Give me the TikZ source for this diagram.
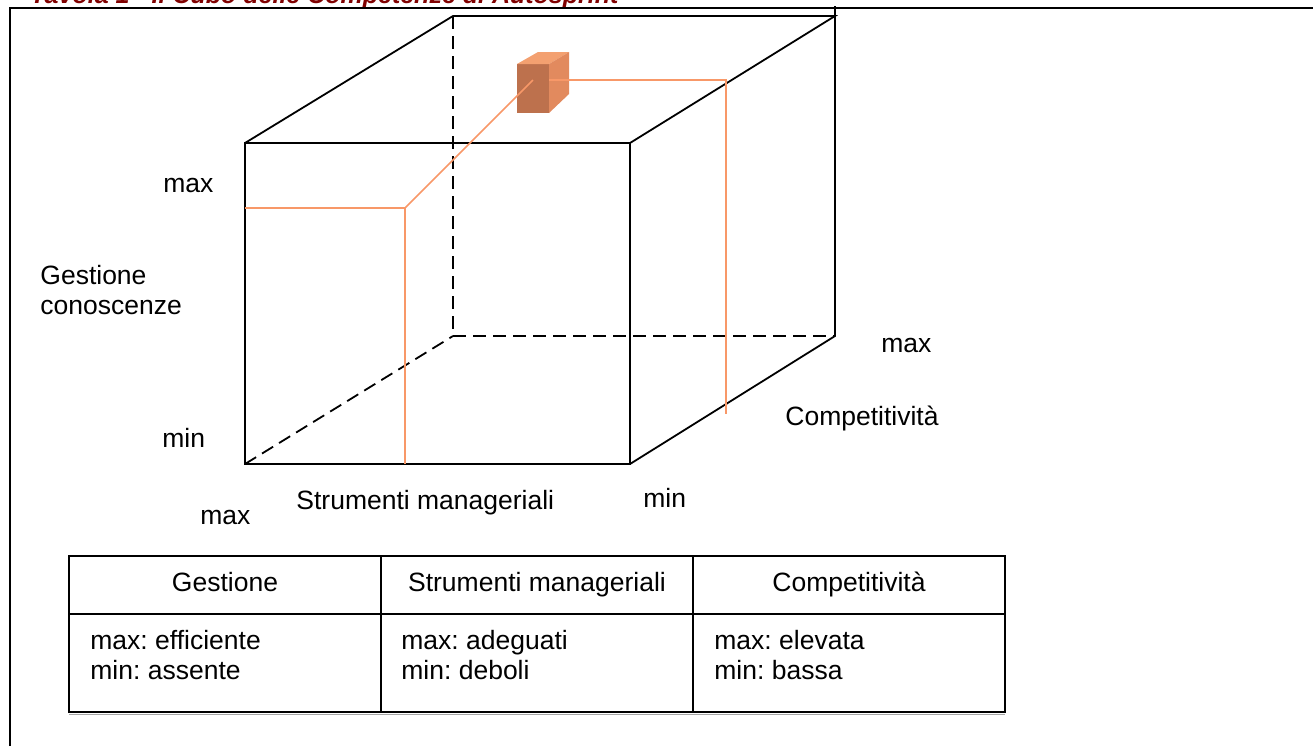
\documentclass[tikz,border=0pt]{standalone}
\usepackage{fontspec}
\setmainfont{Liberation Sans}
\usepackage{tikz}
\usetikzlibrary{positioning}
\definecolor{titlered}{RGB}{128,0,0}
\definecolor{trace}{RGB}{248,152,104}
\definecolor{boxfront}{RGB}{189,113,77}
\definecolor{boxside}{RGB}{226,138,94}
\definecolor{boxtop}{RGB}{243,160,112}
\frenchspacing

\begin{document}
\begin{tikzpicture}[
		x=0.5pt, y=-0.5pt,
		edge/.style={line width=0.9pt},
		hidden/.style={line width=0.9pt, dash pattern=on 6.5pt off 3.5pt},
		path/.style={trace, line width=0.75pt},
		lbl/.style={inner sep=0pt, font=\fontsize{13.25}{15}\selectfont},
		cell/.style={draw, line width=0.6pt, outer sep=0pt, inner sep=0pt,
			minimum width=156pt, text height=9.5pt, text depth=3.5pt,
			font=\fontsize{13.25}{15}\selectfont}]
		
		\useasboundingbox (0,0) rectangle (1313,746);
		
		% title, cut by the page edge
		\node[lbl, anchor=base west, text=titlered, font=\fontsize{12.5}{15}\selectfont\bfseries\itshape]
			(title) at (30,3) {Tavola 1 - Il Cubo delle Competenze di Autosprint};
		
		% frame
		\draw[line width=1pt] (10,746) -- (10,8) -- (1313,8);
		
		% cube corners
		\coordinate (a) at (245,143);
		\coordinate (b) at (630,143);
		\coordinate (c) at (630,464);
		\coordinate (d) at (245,464);
		\coordinate (e) at (453,16);
		\coordinate (f) at (835,16);
		\coordinate (g) at (835,336);
		\coordinate (h) at (453,336);
		
		\draw[edge] (a) -- (b) -- (c) -- (d) -- cycle;
		\draw[edge] (a) -- (e) -- (f) -- (b);
		\draw[edge] (c) -- (g) -- (835,6);
		\draw[hidden] (d) -- (h);
		\draw[hidden] (e) -- (h) -- (g);
		
		% small box
		\fill[boxfront] (517,64) rectangle (549,113);
		\fill[boxtop] (517,64) -- (538,52) -- (569,52) -- (549,64) -- cycle;
		\fill[boxside] (549,64) -- (569,52) -- (569,94) -- (549,113) -- cycle;
		\coordinate (p) at (533,80);
		\coordinate (q) at (549,80);
		
		% traces to the axes
		\coordinate (k) at (405,208);
		\draw[path] (245,208) -- (k) -- (405,464);
		\draw[path] (k) -- (p);
		\draw[path] (q) -- (726,80) -- (726,414);
		
		% axis labels
		\node[lbl, anchor=base west] (gmax) at (163,192) {max};
		\node[lbl, anchor=west, align=left] (gest) at (40,290) {Gestione\\conoscenze};
		\node[lbl, anchor=base west] (gmin) at (162,447) {min};
		\node[lbl, anchor=base west] (smax) at (200,524) {max};
		\node[lbl, anchor=base west] (stru) at (296,509) {Strumenti manageriali};
		\node[lbl, anchor=base west] (smin) at (643,507) {min};
		\node[lbl, anchor=base west] (comp) at (785,425) {Competitività};
		\node[lbl, anchor=base west] (cmax) at (881,352) {max};
		
		% legend table
		\node[cell, anchor=north west, minimum height=29pt] (h1) at (69,556) {Gestione};
		\node[cell, minimum height=29pt, right=0pt of h1] (h2) {Strumenti manageriali};
		\node[cell, minimum height=29pt, right=0pt of h2] (h3) {Competitività};
		\node[cell, minimum height=49pt, below=0pt of h1] (b1) {};
		\node[cell, minimum height=49pt, below=0pt of h2] (b2) {};
		\node[cell, minimum height=49pt, below=0pt of h3] (b3) {};
		\draw[black!35, line width=0.5pt] ([yshift=-1pt]b1.south west) -- ([yshift=-1pt]b3.south east);
		
		\node[lbl, anchor=north west, align=left] (t1) at (90,630) {max: efficiente\\min: assente};
		\node[lbl, anchor=north west, align=left] (t2) at (401,630) {max: adeguati\\min: deboli};
		\node[lbl, anchor=north west, align=left] (t3) at (714,630) {max: elevata\\min: bassa};
		
\end{tikzpicture}
\end{document}
